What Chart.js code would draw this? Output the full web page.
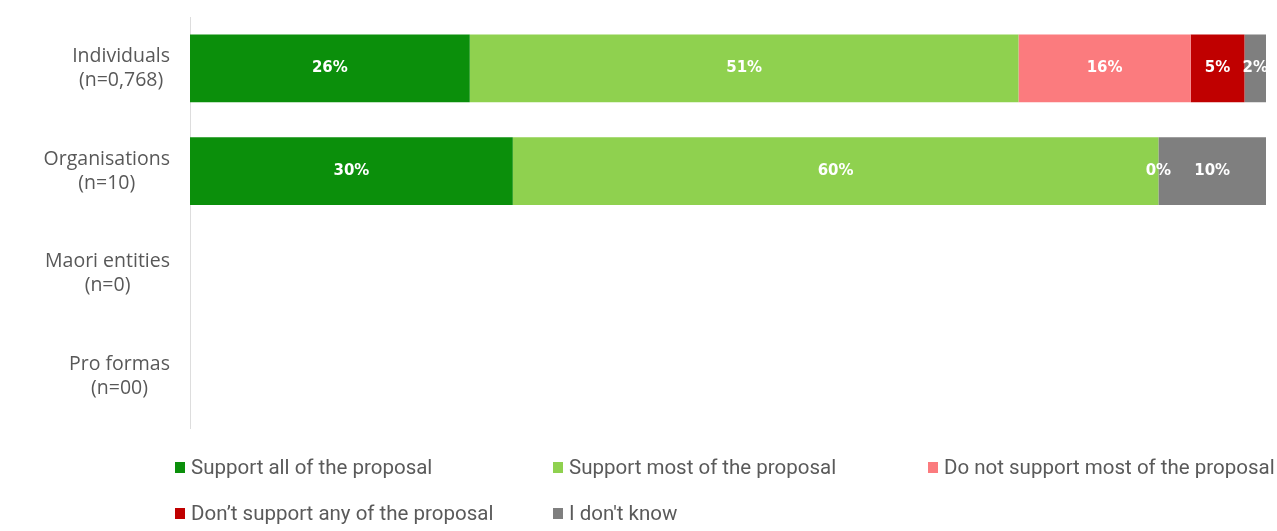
<!DOCTYPE html>
<html>
<head>
<meta charset="utf-8">
<script src="https://cdn.jsdelivr.net/npm/chart.js@4/dist/chart.umd.min.js"></script>
<style>
  html, body { margin: 0; padding: 0; background: #fff; }
  #wrap { position: relative; width: 1277px; height: 531px; overflow: hidden; }
  #legend {
    position: absolute; left: 175px; top: 455px;
    display: grid; grid-template-columns: 378px 375px auto;
    grid-auto-rows: 46px;
    font-family: Roboto, sans-serif; font-size: 20.5px; color: #5a5a5a;
    white-space: nowrap;
  }
  #legend .item { display: flex; align-items: center; height: 24px; }
  #legend .box { width: 10px; height: 11px; margin-right: 6px; }
</style>
</head>
<body>
<div id="wrap">
  <canvas id="barChart" width="1277" height="531"></canvas>
  <div id="legend"></div>
</div>
<script>
// ===================
// Data
// ===================
const categories = [
  ['Individuals', '(n=0,768)'],
  ['Organisations', '(n=10)'],
  ['Maori entities', '(n=0)'],
  ['Pro formas', '(n=00)']
];
const seriesNames = [
  'Support all of the proposal',
  'Support most of the proposal',
  'Do not support most of the proposal',
  'Don\u2019t support any of the proposal',
  'I don\'t know'
];
const supportAll = [26, 30, null, null];
const supportMost = [51, 60, null, null];
const notSupportMost = [16, 0, null, null];
const supportNone = [5, null, null, null];
const dontKnow = [2, 10, null, null];
const seriesColors = ['#0b8f0b', '#8fd14f', '#fb7b7e', '#c00000', '#7f7f7f'];

const seriesValues = [supportAll, supportMost, notSupportMost, supportNone, dontKnow];

// ===================
// Value labels inside the bars
// ===================
const barLabels = {
  id: 'barLabels',
  afterDatasetsDraw(chart) {
    const c = chart.ctx;
    c.save();
    c.font = 'bold 15px "DejaVu Sans", sans-serif';
    c.fillStyle = '#fff';
    c.textAlign = 'center';
    c.textBaseline = 'middle';
    chart.data.datasets.forEach((ds, i) => {
      chart.getDatasetMeta(i).data.forEach((bar, j) => {
        const v = ds.data[j];
        if (v === null || v === undefined) return;
        const p = bar.getCenterPoint();
        c.fillText(v + '%', p.x, p.y);
      });
    });
    c.restore();
  }
};

// ===================
// Category labels: each block right-aligned, lines centred inside it
// ===================
const categoryLabels = {
  id: 'categoryLabels',
  afterDraw(chart) {
    const c = chart.ctx;
    const y = chart.scales.y;
    const lineH = 24;
    c.save();
    c.font = '19.5px "Open Sans", sans-serif';
    c.fillStyle = '#585858';
    c.textAlign = 'center';
    c.textBaseline = 'middle';
    chart.data.labels.forEach((lines, i) => {
      const widest = Math.max(...lines.map(l => c.measureText(l).width));
      const cx = y.right - 20 - widest / 2;
      const cy = y.getPixelForTick(i);
      lines.forEach((l, k) => {
        c.fillText(l, cx, cy + (k - (lines.length - 1) / 2) * lineH);
      });
    });
    c.restore();
  }
};

const ctx = document.getElementById('barChart').getContext('2d');

new Chart(ctx, {
  type: 'bar',
  data: {
    labels: categories,
    datasets: seriesNames.map((name, i) => ({
      label: name,
      data: seriesValues[i],
      backgroundColor: seriesColors[i],
      borderWidth: 0,
      barPercentage: 0.66,
      categoryPercentage: 1
    }))
  },
  options: {
    indexAxis: 'y',
    responsive: false,
    animation: false,
    layout: { padding: { top: 17, right: 11, bottom: 103, left: 0 } },
    plugins: {
      legend: { display: false },
      tooltip: { enabled: false }
    },
    scales: {
      x: {
        stacked: true,
        min: 0,
        max: 100,
        display: false
      },
      y: {
        stacked: true,
        afterFit(scale) {
          scale.width = 190;
          scale.paddingTop = 0;
          scale.paddingBottom = 0;
        },
        grid: { display: false, drawTicks: false },
        border: { display: true, color: '#dddddd' },
        ticks: { display: false }
      }
    }
  },
  plugins: [barLabels, categoryLabels]
});

// ===================
// Legend
// ===================
const legend = document.getElementById('legend');
seriesNames.forEach((name, i) => {
  const item = document.createElement('div');
  item.className = 'item';
  item.innerHTML = '<span class="box" style="background:' + seriesColors[i] + '"></span>' + name;
  legend.appendChild(item);
});
</script>
</body>
</html>
